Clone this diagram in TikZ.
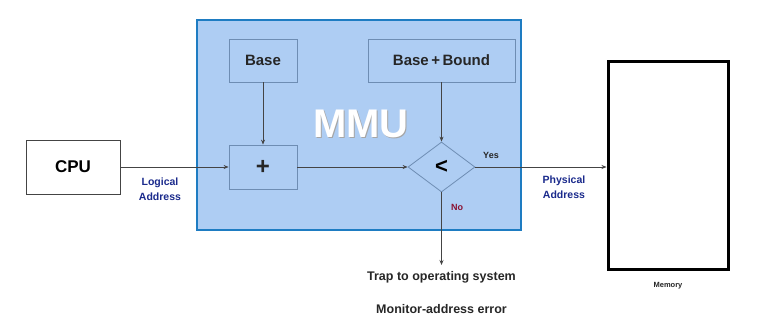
\documentclass[tikz,border=0pt]{standalone}
\usepackage{fontspec}
\setmainfont{Liberation Sans}
\usetikzlibrary{shapes.geometric,arrows.meta}
\definecolor{mmufill}{HTML}{AECDF3}
\definecolor{mmuedge}{HTML}{1E7CC2}
\definecolor{inedge}{HTML}{6E8DB3}
\definecolor{lblblue}{HTML}{1A2A8C}
\definecolor{lblred}{HTML}{8A1030}
\definecolor{wire}{HTML}{444444}
\tikzset{
  inbox/.style={draw=inedge, line width=0.8pt, fill=mmufill, text=black!85, inner sep=0pt},
  wireline/.style={draw=wire, line width=0.7pt, -{Stealth[length=5pt,width=4pt]}},
  lbl/.style={font=\bfseries\fontsize{10.5}{15}\selectfont, text=lblblue, align=center},
}
\begin{document}
\begin{tikzpicture}[x=1pt,y=-1pt]
\useasboundingbox (0,0) rectangle (784,316);
\fill[white] (0,0) rectangle (784,316);
% MMU
\draw[fill=mmufill, draw=mmuedge, line width=2.5pt] (197,20) rectangle (521,230);
\node[font=\bfseries\fontsize{40}{42}\selectfont, text=gray!70] (mmushadow) at (362,125) {MMU};
\node[font=\bfseries\fontsize{40}{42}\selectfont, text=white] (mmu) at (361,124) {MMU};
% CPU
\node[draw=wire, line width=0.7pt, minimum width=94pt, minimum height=54pt, font=\bfseries\fontsize{17}{19}\selectfont, inner sep=0pt] (cpu) at (73,167) {CPU};
% Base
\node[inbox, minimum width=68pt, minimum height=43pt, font=\bfseries\fontsize{15}{17}\selectfont] (base) at (263,60.5) {Base};
\node[inbox, minimum width=147pt, minimum height=43pt, font=\bfseries\fontsize{15}{17}\selectfont] (bb) at (441.5,60.5) {Base\,+\,Bound};
% plus
\node[inbox, minimum width=68pt, minimum height=44pt, font=\bfseries\fontsize{24}{26}\selectfont] (plus) at (263,167) {+};
% diamond
\node[draw=inedge, line width=0.8pt, diamond, minimum width=67pt, minimum height=50pt, inner sep=0pt, font=\bfseries\fontsize{22}{24}\selectfont] (cmp) at (441.5,167) {<};
% Memory
\node[draw=black, line width=3pt, minimum width=120pt, minimum height=208pt, inner sep=0pt] (mem) at (668,165) {};
\node[font=\bfseries\fontsize{7.5}{9}\selectfont, text=black!85] (memlbl) at (668,286) {Memory};
% trap
\coordinate (trapend) at (441.5,265);
\node[font=\bfseries\fontsize{12.5}{14}\selectfont, text=black!85] (trap) at (441.5,277) {Trap to operating system};
\node[font=\bfseries\fontsize{12.5}{14}\selectfont, text=black!85] (mon) at (441.5,309) {Monitor-address error};
% connectors
\draw[wireline] (cpu.east) -- (plus.west);
\draw[wireline] (base.south) -- (plus.north);
\draw[wireline] (bb.south) -- (cmp.north);
\draw[wireline] (plus.east) -- (cmp.west);
\draw[wireline] (cmp.east) -- (cmp.east -| mem.west);
\draw[wireline] (cmp.south) -- (trapend);
% labels
\node[lbl] (logical) at (160,189) {Logical\\Address};
\node[lbl] (physical) at (564,187) {Physical\\Address};
\node[font=\bfseries\fontsize{9}{10}\selectfont, text=black!85] (yes) at (491,155) {Yes};
\node[font=\bfseries\fontsize{9}{10}\selectfont, text=lblred] (no) at (457,207) {No};
\end{tikzpicture}
\end{document}
